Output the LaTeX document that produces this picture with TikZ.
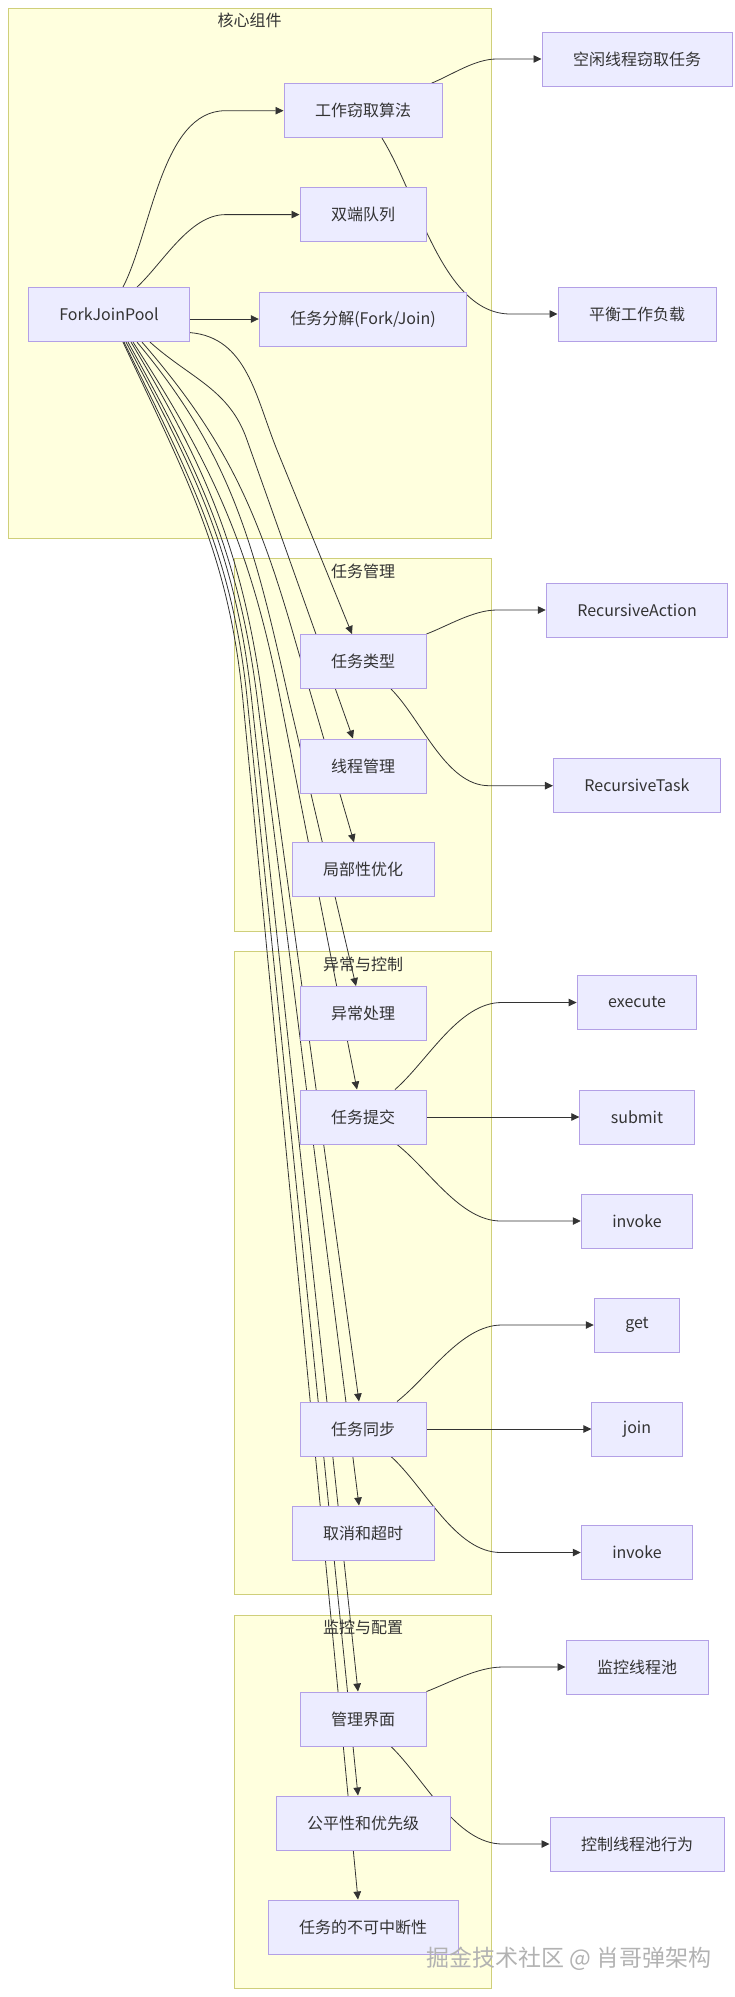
\documentclass[tikz,border=0pt]{standalone}
\usepackage{fontspec}
\setmainfont{Noto Sans CJK SC}
\usetikzlibrary{arrows.meta}
\pgfdeclarelayer{back}
\pgfdeclarelayer{mid}
\pgfsetlayers{back,mid,main}
\definecolor{boxfill}{HTML}{ECECFF}
\definecolor{boxline}{HTML}{B3A0E6}
\definecolor{grpfill}{HTML}{FFFFDE}
\definecolor{grpline}{HTML}{CFCF7A}
\definecolor{wire}{HTML}{333333}
\tikzset{
  box/.style={draw=boxline, fill=boxfill, line width=1pt, inner xsep=31pt,
    inner ysep=0pt, minimum height=54pt, text=wire,
    font=\fontsize{16pt}{19pt}\selectfont},
  grp/.style={draw=grpline, fill=grpfill, line width=1pt},
  grptitle/.style={text=wire, font=\fontsize{16pt}{19pt}\selectfont},
  edge/.style={draw=wire, line width=0.8pt, -{Triangle[length=8pt,width=7.5pt]}},
  softbend/.style={looseness=0.8}
}
\begin{document}
\begin{tikzpicture}[x=1pt,y=1pt]
  \useasboundingbox (0,0) rectangle (735,-1997);
  % 分组背景
  \begin{pgfonlayer}{back}
    \draw[grp] (8,-8) rectangle (491.7,-538.6);
    \draw[grp] (234,-558.7) rectangle (491.7,-931.7);
    \draw[grp] (234,-951.6) rectangle (491.7,-1594.5);
    \draw[grp] (234,-1615.7) rectangle (491.7,-1988.7);
  \end{pgfonlayer}
  \node[grptitle] (g1) at (249.5,-20) {核心组件};
  \node[grptitle] (g2) at (363,-571) {任务管理};
  \node[grptitle] (g3) at (363,-964) {异常与控制};
  \node[grptitle] (g4) at (363,-1627) {监控与配置};
  % 核心组件
  \node[box] (fjp) at (109,-314.6) {ForkJoinPool};
  \node[box] (wsa) at (363,-110.7) {工作窃取算法};
  \node[box] (deq) at (363,-214.6) {双端队列};
  \node[box] (tdj) at (363,-319) {任务分解(Fork/Join)};
  \node[box] (idle) at (637,-59) {空闲线程窃取任务};
  \node[box] (bal) at (637,-314) {平衡工作负载};
  % 任务管理
  \node[box] (ttype) at (363,-661.5) {任务类型};
  \node[box] (tmgr) at (363,-766) {线程管理};
  \node[box] (loc) at (363,-869.7) {局部性优化};
  \node[box] (ract) at (637,-610) {RecursiveAction};
  \node[box] (rtask) at (637,-785.7) {RecursiveTask};
  % 异常与控制
  \node[box] (exc) at (363,-1013.5) {异常处理};
  \node[box] (sub) at (363,-1117) {任务提交};
  \node[box] (sync) at (363,-1429) {任务同步};
  \node[box] (cancel) at (363,-1533) {取消和超时};
  \node[box] (exe) at (637,-1002.5) {execute};
  \node[box] (sbm) at (637,-1117) {submit};
  \node[box] (inv) at (637,-1221) {invoke};
  \node[box] (get) at (637,-1325) {get};
  \node[box] (join) at (637,-1429) {join};
  \node[box] (invb) at (637,-1552.5) {invoke};
  % 监控与配置
  \node[box] (mui) at (363,-1719) {管理界面};
  \node[box] (fair) at (363,-1823) {公平性和优先级};
  \node[box] (unint) at (363,-1927) {任务的不可中断性};
  \node[box] (mon) at (637,-1667) {监控线程池};
  \node[box] (ctl) at (637,-1844) {控制线程池行为};
  % 连线
  \begin{pgfonlayer}{mid}
    \draw[edge] ([xshift=14pt]fjp.north) to[out=63,in=180,softbend] ([xshift=-58pt]wsa.west) -- (wsa.west);
    \draw[edge] ([xshift=28pt]fjp.north) to[out=43,in=180,softbend] ([xshift=-74pt]deq.west) -- (deq.west);
    \draw[edge] (fjp.east |- tdj.west) -- (tdj.west);
    \draw[edge] ([xshift=-11pt]wsa.north east) to[out=22,in=180,softbend] ([xshift=-45pt]idle.west) -- (idle.west);
    \draw[edge] ([xshift=19pt]wsa.south) to[out=-58,in=180,softbend] ([xshift=-47pt]bal.west) -- (bal.west);
    % 从线程池向下
    \draw[edge] ([yshift=-18pt]fjp.east) to[out=-5,in=112] (277,-450) -- ([xshift=-11pt]ttype.north);
    \foreach \t/\sx/\o/\wx/\wy/\i/\tx in {
      tmgr/41/-42/247/440/109/-10,
      loc/33/-49/295/640/106/-9,
      exc/28/-50/289/700/102.7/-7,
      sub/24/-57/280.5/700/101.1/-6,
      sync/22/-59/262.6/700/97.8/-4,
      cancel/19/-61/257.4/700/97.2/-4,
      mui/17/-62/251.7/700/96.1/-5,
      fair/15/-64/247.3/700/95.8/-5,
      unint/14/-65/242.9/700/95.5/-5}
      \draw[edge] ([xshift=\sx pt]fjp.south) to[out=\o,in=\i] (\wx,-\wy) -- ([xshift=\tx pt]\t.north);
    % 任务类型
    \draw[edge] (ttype.north east) to[out=21,in=180,softbend] ([xshift=-49pt]ract.west) -- (ract.west);
    \draw[edge] ([xshift=28pt]ttype.south) to[out=-45,in=180,softbend] ([xshift=-64pt]rtask.west) -- (rtask.west);
    % 任务提交
    \draw[edge] ([xshift=32pt]sub.north) to[out=41,in=180,softbend] ([xshift=-75pt]exe.west) -- (exe.west);
    \draw[edge] (sub.east) -- (sbm.west);
    \draw[edge] ([xshift=34pt]sub.south) to[out=-38,in=180,softbend] ([xshift=-80pt]inv.west) -- (inv.west);
    % 任务同步
    \draw[edge] ([xshift=34pt]sync.north) to[out=38,in=180,softbend] ([xshift=-92pt]get.west) -- (get.west);
    \draw[edge] (sync.east) -- (join.west);
    \draw[edge] ([xshift=28pt]sync.south) to[out=-42,in=180,softbend] ([xshift=-80pt]invb.west) -- (invb.west);
    % 管理界面
    \draw[edge] (mui.north east) to[out=21,in=180,softbend] ([xshift=-63pt]mon.west) -- (mon.west);
    \draw[edge] ([xshift=28pt]mui.south) to[out=-44,in=180,softbend] ([xshift=-47pt]ctl.west) -- (ctl.west);
  \end{pgfonlayer}
  % 水印
  \node[text=gray!60, font=\fontsize{23pt}{26pt}\selectfont] (mark) at (569,-1959) {掘金技术社区 @ 肖哥弹架构};
\end{tikzpicture}
\end{document}
